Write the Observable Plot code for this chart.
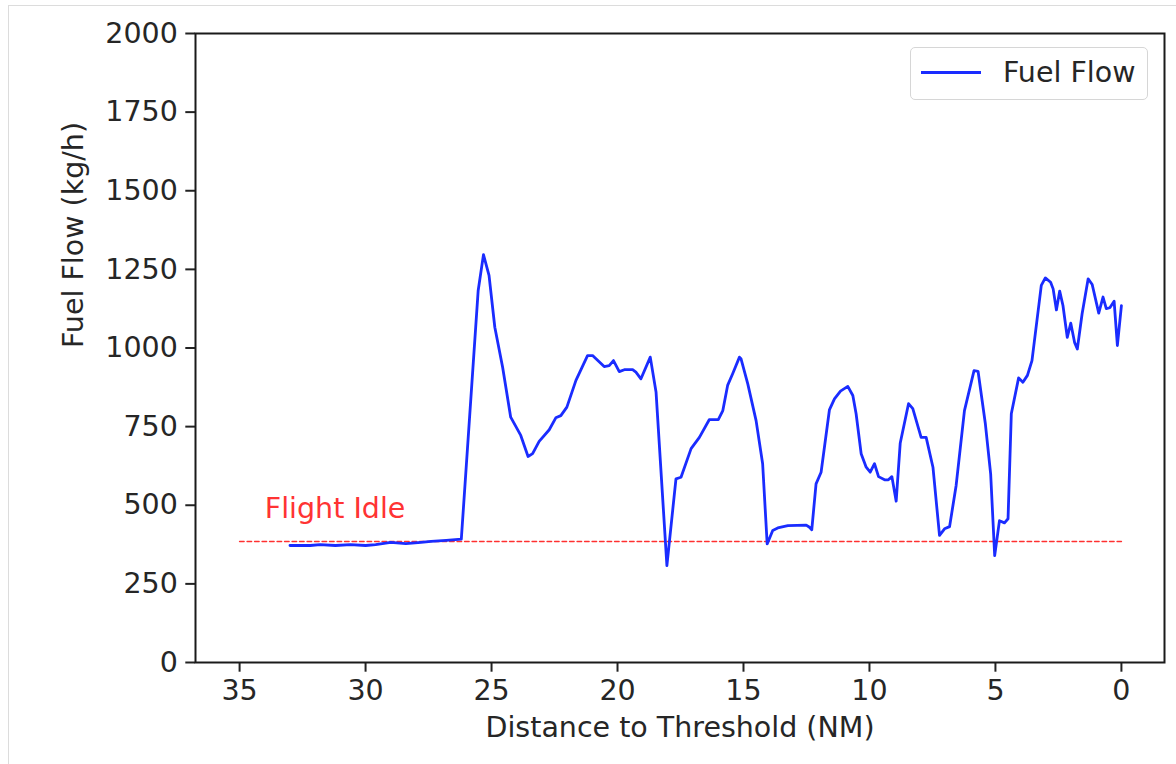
<!DOCTYPE html>
<html>
<head>
<meta charset="utf-8">
<script src="https://cdn.jsdelivr.net/npm/d3@7"></script>
<script src="https://cdn.jsdelivr.net/npm/@observablehq/plot@0.6"></script>
<style>
  html, body { margin: 0; padding: 0; background: #fff; }
  #wrap { position: relative; width: 1176px; height: 764px; overflow: hidden; font-family: "DejaVu Sans", sans-serif; }
  #cell { position: absolute; left: 8px; top: 5px; right: -10px; bottom: -10px; border-left: 1.5px solid #dcdcdc; border-top: 1.5px solid #dcdcdc; }
  #chart { position: absolute; left: 0; top: 0; }
  #legend { position: absolute; left: 910px; top: 47px; width: 236px; height: 51px; border: 1.5px solid #d6d6d6; border-radius: 5px; background: rgba(255,255,255,0.85); }
  #legend svg { position: absolute; left: 0; top: 0; }
</style>
</head>
<body>
<div id="wrap">
  <div id="cell"></div>
  <div id="chart"></div>
  <div id="legend">
    <svg width="236" height="51">
      <line x1="10" x2="70" y1="24.5" y2="24.5" stroke="#1a2cff" stroke-width="2.8"></line>
      <text x="92" y="34" font-family="DejaVu Sans" font-size="28.5" fill="#262626">Fuel Flow</text>
    </svg>
  </div>
</div>
<script>
const distance = [33.0, 32.2, 31.8, 31.2, 30.6, 30.0, 29.6, 29.0, 28.4, 27.8, 27.4, 26.8, 26.2,
  25.53, 25.32, 25.10, 24.87, 24.56, 24.24, 23.84, 23.55, 23.37, 23.11, 22.71, 22.45, 22.25, 22.01,
  21.65, 21.19, 20.99, 20.53, 20.33, 20.16, 19.93, 19.73, 19.40, 19.27, 19.07, 18.70, 18.47, 18.04,
  17.68, 17.48, 17.08, 16.75, 16.36, 16.00, 15.82, 15.63, 15.43, 15.16, 15.10, 14.83, 14.50, 14.24,
  14.06, 13.84, 13.64, 13.24, 12.51, 12.38, 12.29, 12.12, 11.92, 11.59, 11.39, 11.15, 10.86, 10.66,
  10.53, 10.33, 10.13, 9.97, 9.80, 9.64, 9.40, 9.25, 9.11, 8.94, 8.78, 8.45, 8.28, 7.95, 7.75, 7.48,
  7.22, 7.02, 6.82, 6.56, 6.23, 5.85, 5.69, 5.40, 5.19, 5.03, 4.84, 4.64, 4.50, 4.37, 4.08, 3.91,
  3.73, 3.55, 3.18, 3.02, 2.81, 2.71, 2.58, 2.45, 2.32, 2.15, 2.01, 1.86, 1.75, 1.56, 1.32, 1.16,
  0.90, 0.73, 0.60, 0.46, 0.29, 0.16, 0.00];
const fuelFlow = [372, 372, 375, 372, 375, 372, 375, 382, 378, 382, 385, 388, 392,
  1183, 1297, 1231, 1066, 939, 780, 722, 655, 664, 703, 740, 778, 785, 812,
  897, 976, 976, 941, 944, 960, 925, 931, 931, 923, 902, 971, 859, 308,
  584, 589, 680, 716, 772, 772, 801, 881, 918, 971, 966, 886, 769, 632,
  377, 420, 428, 435, 437, 430, 422, 568, 605, 803, 838, 863, 878, 849,
  791, 664, 621, 605, 632, 591, 581, 581, 591, 513, 697, 823, 807, 716, 716, 621,
  404, 425, 432, 563, 801, 928, 926, 759, 600, 340, 451, 444, 457, 791, 905, 891,
  913, 960, 1199, 1223, 1209, 1188, 1121, 1181, 1135, 1034, 1079, 1018, 997, 1109, 1220, 1202,
  1111, 1162, 1125, 1128, 1149, 1008, 1135];
const flightIdle = 385;
const idleRange = [35, 0];
const xTicks = [35, 30, 25, 20, 15, 10, 5, 0];
const yTicks = [0, 250, 500, 750, 1000, 1250, 1500, 1750, 2000];
const xLabel = "Distance to Threshold (NM)";
const yLabel = "Fuel Flow (kg/h)";
const idleLabel = "Flight Idle";

const data = distance.map((d, i) => ({d, v: fuelFlow[i]}));
const idleData = idleRange.map(d => ({d, v: flightIdle}));

const chart = Plot.plot({
  width: 1176,
  height: 764,
  marginLeft: 195,
  marginRight: 12,
  marginTop: 33,
  marginBottom: 102,
  x: {domain: [36.75, -1.71]},
  y: {domain: [0, 2000]},
  style: {fontFamily: "DejaVu Sans", fontSize: "28.5px", background: "transparent", color: "#262626", overflow: "visible"},
  marks: [
    Plot.axisX(xTicks, {tickSize: 9.7, tickPadding: 8, label: null, tickFormat: d3.format("d"), stroke: "#222", strokeWidth: 2, fill: "#262626", fontSize: "28.5px"}),
    Plot.axisY(yTicks, {tickSize: 9.7, tickPadding: 8, label: null, tickFormat: d3.format("d"), stroke: "#222", strokeWidth: 2, fill: "#262626", fontSize: "28.5px"}),
    Plot.line(idleData, {x: "d", y: "v", stroke: "#ff3030", strokeWidth: 1.5, strokeDasharray: "4.5,3"}),
    Plot.line(data, {x: "d", y: "v", stroke: "#1a2cff", strokeWidth: 2.8, strokeLinejoin: "round"}),
    Plot.text([idleLabel], {x: 34, y: 488, text: d => d, textAnchor: "start", fill: "#ff3333", fontSize: "28.5px"}),
    Plot.text([xLabel], {frameAnchor: "bottom", dy: 74, text: d => d, fill: "#262626", fontSize: "28.5px"}),
    Plot.text([yLabel], {frameAnchor: "left", dx: -122, rotate: -90, text: d => d, fill: "#262626", fontSize: "28.5px"}),
    Plot.frame({stroke: "#1a1a1a", strokeWidth: 2})
  ]
});
document.getElementById("chart").appendChild(chart);
</script>
</body>
</html>
